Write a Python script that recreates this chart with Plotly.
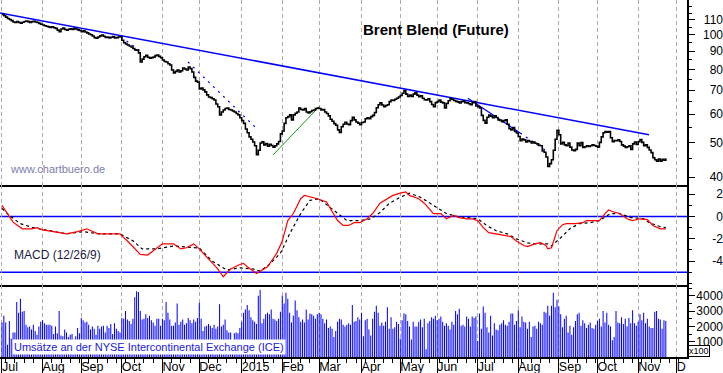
import plotly.graph_objects as go
import math

# ---------------- data ----------------
# trading-day index of first session of each month (Jul 2014 .. Dec 2015)
month_idx = [0, 22, 43, 65, 87, 107, 130, 152, 172, 195, 216, 236, 258, 280, 302, 323, 345, 366]
month_lbl = ["Jul", "Aug", "Sep", "Oct", "Nov", "Dec", "2015", "Feb", "Mar", "Apr", "May",
             "Jun", "Jul", "Aug", "Sep", "Oct", "Nov", "D"]

close_2014_jul = [114, 113, 112, 111, 110.3, 109.5, 108.6, 108.2, 108.9, 108.2, 107.8, 108.4, 108.9,
                  109.3, 108.8, 108.3, 108.8, 109.1, 108.6, 108.2, 107.6, 107]
close_2014_aug = [106.5, 106, 105.6, 105.2, 104.9, 105.3, 104.6, 104.2, 103, 102, 103.8, 104.4, 103.4,
                  103, 103.6, 103.9, 103.4, 104.2, 103.8, 103.2, 102.8]
close_2014_sep = [102, 102.6, 101.8, 101.2, 100.5, 100, 99.2, 98.2, 97.8, 98.6, 99.3, 99.8, 99, 98.3,
                  98.6, 97.9, 98.4, 98.8, 97.9, 98.2, 98.6, 98.9]
close_2014_oct = [96.5, 95, 94.2, 93.6, 93, 92.4, 91.5, 90.7, 90.5, 89, 83.9, 85.5, 86.8, 87.6, 86.5,
                  86, 86.3, 86.6, 87.4, 87.8, 87, 86.2]
close_2014_nov = [85, 84.2, 83.9, 83, 82.3, 79.7, 78.2, 79, 79.7, 78.7, 79.3, 80.7, 80.2, 79.7, 81.2,
                  80.4, 78.7, 76, 74.2, 73.7]
close_2014_dec = [70.5, 71, 70.1, 69.2, 67.9, 67, 66.7, 66.2, 65.7, 64, 62.9, 59.7, 60.8, 61.6, 62.2,
                  62.4, 61.8, 61.6, 61.2, 60.8, 60.2, 59.7, 58.6]
close_2015_jan = [57.5, 56.5, 54.5, 53.2, 51.8, 51, 50.1, 48.9, 46.2, 47.5, 49.8, 50.2, 49.2, 49.6,
                  48.8, 49.4, 49, 48.5, 48.9, 49.5, 50.3, 52.8]
close_2015_feb = [53.8, 56.5, 58.6, 59, 59.7, 57.8, 59.7, 60.3, 60.8, 62.4, 61.8, 61.6, 62.2, 60.8,
                  60.4, 60.9, 61.4, 61.6, 62.2, 62.4]
close_2015_mar = [62.2, 61.6, 61.8, 60.8, 60.2, 59.3, 58, 57.3, 56.4, 55.8, 54.2, 53.3, 55.3, 56.2,
                  56.9, 56.3, 56, 57.5, 58.8, 57.8, 57, 56.6, 56]
close_2015_apr = [56.8, 57, 58.2, 58.6, 58.2, 59, 59.5, 60.6, 62.5, 63.7, 64.5, 63.6, 62.9, 63.4,
                  63.7, 65, 65.7, 65.5, 66, 66.4, 67]
close_2015_may = [67.6, 68.6, 69.8, 68.2, 67.2, 67.8, 67.2, 68.2, 68.8, 67.8, 67.1, 67.5, 66.4, 65.8,
                  65.7, 66.2, 65, 63.8, 62.9, 64.6]
close_2015_jun = [65, 65.7, 64.8, 64.5, 62.4, 64.2, 65.4, 66.4, 65.9, 65.5, 65.1, 64.9, 64.4, 65,
                  65.2, 64.6, 64.5, 64.1, 63.7, 64.6, 65, 63.2]
close_2015_jul = [62.9, 62.4, 59.5, 57.6, 56.6, 58.8, 59.6, 59.2, 58.6, 59.3, 58.7, 57.8, 57.6, 57.1,
                  57.5, 57.8, 56.2, 54.6, 54.2, 55, 53.6, 53.1]
close_2015_aug = [51.9, 50.5, 51.1, 50.8, 50.1, 50.6, 50.3, 49.8, 50.1, 49.7, 49.5, 49.1, 48.9, 47.3,
                  46.9, 45.5, 42.8, 43.6, 44.7, 47.5, 51, 54]
close_2015_sep = [52.5, 49.5, 50, 49.2, 48.9, 49.8, 48.5, 47.6, 47.4, 47.8, 49.8, 48.9, 49.9, 48.4,
                  48.6, 48.9, 48.7, 48.9, 49.2, 49, 48.8]
close_2015_oct = [48.5, 50, 51.8, 53.2, 53.6, 53.4, 53.6, 51.5, 50.2, 50.6, 50.5, 50.8, 50.3, 49.2,
                  48.8, 48.4, 48.6, 48.9, 47.8, 49.5, 50.1, 49.3]
close_2015_nov = [50.2, 50.9, 50, 48.9, 49.2, 48.4, 47.6, 46.8, 45.3, 44.7, 44.3, 44.9, 44.3, 44.8,
                  44.6, 45.1]

close = (close_2014_jul + close_2014_aug + close_2014_sep + close_2014_oct + close_2014_nov +
         close_2014_dec + close_2015_jan + close_2015_feb + close_2015_mar + close_2015_apr +
         close_2015_may + close_2015_jun + close_2015_jul + close_2015_aug + close_2015_sep +
         close_2015_oct + close_2015_nov)
days = list(range(len(close)))

volume = [
    2250, 2700, 2250, 800, 2350, 1200, 1600, 1600, 3600, 2900, 3800, 2950, 3000, 2100, 1950, 2000, 1800, 2100, 1700, 1450, 2000, 2300,
    2400, 2200, 2100, 2100, 2100, 2050, 1500, 2000, 1550, 3000, 1400, 1350, 1800, 1600, 1300, 1450, 1500, 1150, 1350, 1900, 1550,
    2550, 2400, 2250, 2300, 2100, 1800, 2000, 1850, 1450, 2050, 1850, 2000, 2050, 1600, 2050, 1900, 2150, 1500, 2200, 1850, 1700, 1600,
    2550, 2500, 3000, 2450, 2350, 2150, 2500, 3900, 4300, 4250, 3000, 2450, 2500, 2800, 2550, 2700, 2400, 2250, 2050, 2500, 2500, 2050,
    2500, 2400, 3600, 2900, 2450, 2050, 2050, 2250, 3500, 2100, 2300, 2450, 2100, 2200, 2550, 2400, 2200, 2450, 2300, 2550,
    3550, 2500, 1700, 2000, 2050, 2150, 2050, 1900, 2100, 1850, 2000, 3450, 2000, 2100, 2450, 1750, 1600, 1600, 800, 1550, 1600, 1550, 1900,
    2300, 2900, 3100, 3400, 3050, 2600, 2400, 2300, 2150, 4000, 4400, 2200, 2500, 2800, 2900, 2800, 3100, 2500, 2450, 2350, 2500, 2950,
    4000, 3500, 4200, 3800, 2900, 2250, 2700, 3700, 3050, 2600, 2300, 2450, 2250, 3100, 2450, 2850, 2800, 2700, 2500, 2800,
    2900, 2800, 2500, 2200, 2450, 1900, 2000, 1850, 1300, 1700, 2300, 2500, 2450, 2100, 2000, 2100, 2200, 2100, 3400, 2300, 2350, 2600, 2450,
    2900, 1350, 2400, 2500, 1800, 1400, 2500, 2950, 3350, 2900, 2050, 2250, 2050, 2300, 3250, 1850, 2600, 1850, 1950, 2300, 2150,
    1200, 2400, 2850, 2800, 2350, 2000, 1150, 2300, 2000, 2000, 2300, 2450, 1950, 2500, 500, 2200, 2350, 2600, 2500, 2700,
    2400, 2500, 2650, 2300, 2050, 2200, 2050, 1800, 2300, 2100, 3000, 2800, 3150, 2050, 2100, 2000, 2650, 2500, 2000, 2650, 2550, 2650,
    1050, 2850, 1850, 3300, 2900, 1950, 1600, 2700, 1400, 2200, 1800, 1750, 2100, 2200, 2400, 2100, 2050, 2300, 2850, 2850, 2100, 2350,
    3050, 1950, 2650, 2300, 2250, 1850, 2300, 1300, 2000, 2050, 1850, 2300, 2200, 2100, 2950, 2900, 3350, 2700, 3350, 4200, 3250, 3750,
    3300, 2800, 1950, 2500, 2700, 1600, 2050, 1450, 1950, 2350, 2800, 2900, 2050, 2400, 2200, 1900, 2100, 2250, 1900, 1850, 2100,
    2350, 2500, 2000, 3000, 2250, 2900, 2100, 2000, 1100, 1300, 3000, 2250, 2200, 2600, 2150, 2500, 2000, 2550, 2200, 3050, 2200, 2050,
    2300, 2800, 2400, 2900, 2200, 2500, 2000, 1900, 1900, 2950, 3000, 2500, 2450, 1850, 2400, 2350,
]

macd_x = [0, 3, 6, 11, 16, 19, 22, 28, 35, 41, 46, 52, 57, 64, 69, 75, 79, 82, 87, 93, 97, 100, 104,
          107, 113, 117, 120, 124, 129, 131, 133, 138, 144, 149, 152, 155, 158, 162, 164, 169, 171,
          176, 182, 185, 188, 191, 194, 198, 201, 205, 209, 212, 216, 219, 221, 226, 229, 234, 238,
          241, 245, 248, 252, 255, 258, 261, 264, 268, 272, 276, 279, 283, 285, 289, 292, 295, 296,
          298, 301, 304, 306, 311, 315, 317, 321, 324, 327, 329, 331, 335, 339, 342, 346, 350, 353,
          357, 360]
macd_v = [1.0, 0.27, -0.5, -1.1, -1.1, -1.0, -1.2, -1.35, -1.55, -1.35, -1.1, -1.55, -1.55, -1.55,
          -2.35, -3.4, -3.45, -3.1, -2.45, -2.45, -2.9, -2.8, -2.45, -2.9, -4.0, -4.7, -5.4, -4.7,
          -4.3, -4.2, -4.5, -5.1, -4.5, -3.3, -2.2, -0.36, 0.27, 1.6, 1.9, 1.7, 1.6, 1.3, -0.36, -0.8,
          -0.8, -0.55, -0.55, -0.2, 0.27, 1.2, 1.6, 1.9, 2.1, 2.2, 1.9, 1.6, 1.2, 0.27, 0.27, -0.2,
          0.1, -0.1, -0.2, -0.2, -0.36, -1.0, -1.45, -1.55, -1.7, -1.8, -2.2, -2.6, -2.7, -2.45,
          -2.35, -2.6, -2.9, -2.8, -1.27, -0.73, -0.64, -0.64, -0.55, -0.36, -0.36, -0.36, 0.27, 0.6,
          0.45, 0.27, -0.2, -0.36, -0.2, -0.27, -0.8, -1.1, -1.1]
signal_x = [0, 4, 10, 17, 26, 35, 44, 53, 64, 71, 76, 84, 93, 100, 107, 114, 122, 129, 136, 140,
            145, 151, 156, 162, 167, 172, 178, 182, 187, 194, 200, 205, 210, 216, 221, 227, 232, 238,
            241, 247, 252, 258, 263, 268, 274, 279, 285, 290, 296, 298, 303, 308, 313, 319, 324, 330,
            335, 341, 348, 351, 357, 360]
signal_v = [0.73, 0.09, -0.64, -1.0, -1.27, -1.55, -1.36, -1.55, -1.55, -2.18, -2.9, -2.9, -2.64,
            -2.73, -2.82, -4.0, -4.8, -4.6, -4.7, -4.9, -4.3, -3.3, -1.55, 0.27, 1.45, 1.6, 0.82,
            0.27, -0.36, -0.36, -0.2, 0.36, 1.18, 1.73, 2.09, 1.73, 1.18, 0.55, 0.27, 0.0, -0.09,
            -0.2, -0.82, -1.27, -1.55, -2.0, -2.36, -2.45, -2.45, -2.64, -1.9, -1.1, -0.64, -0.55,
            -0.36, 0.27, 0.27, -0.09, -0.2, -0.55, -0.91, -1.0]

# drawn trend lines: (day index, price)
trend_main_x, trend_main_y = [-1.08, 350.9], [115.1, 52.5]
trend_a_x, trend_a_y = [64.5, 76.5], [98.6, 88.9]
trend_b_x, trend_b_y = [100.9, 137.7], [83.9, 54.9]
trend_c_x, trend_c_y = [252.7, 281.0], [66.4, 53.1]
trend_c2_x, trend_c2_y = [281.0, 294.5], [53.1, 47.6]
green_x, green_y = [147.0, 172.5], [46.1, 63.3]
support_x0, support_x1, support_lo, support_hi = 133.4, 364.4, 46.7, 47.6
resistance_level = 62.9
upper_level = 112.8
macd_levels = [0, -5]

price_ticks = [40, 50, 60, 70, 80, 90, 100, 110]
price_minor = [45, 55, 65, 75, 85, 95, 105, 115, 120]
macd_ticks = [-4, -2, 0, 2]
vol_ticks = [1000, 2000, 3000, 4000]

# ---------------- layout constants ----------------
W, H = 723, 373
PLOT_H = 357
XR = [-1.08, 371.5]
XDOM = [0, 687 / W]
FONT = "Liberation Sans, Arial, sans-serif"
GRID = "#b0a8b0"

def py(pix):
    return (PLOT_H - pix) / PLOT_H

dom_price = [py(185), 1]
dom_macd = [py(285), py(185)]
dom_vol = [0, py(285)]
price_range = [math.log10(37.99), math.log10(125.1)]
macd_range = [-6.14, 2.83]
vol_range = [0, 4706]

fig = go.Figure()

# price panel
fig.add_trace(go.Scatter(x=trend_main_x, y=trend_main_y, mode="lines",
                         line=dict(color="#0000ff", width=1.5), xaxis="x", yaxis="y"))
for tx, ty in [(trend_a_x, trend_a_y), (trend_b_x, trend_b_y), (trend_c2_x, trend_c2_y)]:
    fig.add_trace(go.Scatter(x=tx, y=ty, mode="lines",
                             line=dict(color="#0000ff", width=1.3, dash="2px,5px"), xaxis="x", yaxis="y"))
fig.add_trace(go.Scatter(x=trend_c_x, y=trend_c_y, mode="lines",
                         line=dict(color="#0000ff", width=1.2), xaxis="x", yaxis="y"))
fig.add_trace(go.Scatter(x=green_x, y=green_y, mode="lines",
                         line=dict(color="#10a010", width=1), xaxis="x", yaxis="y"))
fig.add_trace(go.Scatter(x=days, y=close, mode="lines", line=dict(color="black", width=1.6, shape="hv"),
                         xaxis="x", yaxis="y"))

# MACD panel
fig.add_trace(go.Scatter(x=signal_x, y=signal_v, mode="lines",
                         line=dict(color="black", width=1.2, dash="3px,3px"), xaxis="x2", yaxis="y2"))
fig.add_trace(go.Scatter(x=macd_x, y=macd_v, mode="lines",
                         line=dict(color="#ff0000", width=1.2), xaxis="x2", yaxis="y2"))

# volume panel (alpha < 1 makes plotly snap bar edges to whole pixels -> crisp 1px bars)
fig.add_trace(go.Bar(x=days, y=volume, width=0.55,
                     marker=dict(color="rgba(0,0,255,0.999)", line=dict(width=0)),
                     xaxis="x3", yaxis="y3"))

# dummy traces for label-only overlay axes
for xa, ya in [("x", "y4"), ("x2", "y5"), ("x3", "y6"), ("x4", "y3")]:
    fig.add_trace(go.Scatter(x=[None], y=[None], xaxis=xa, yaxis=ya, hoverinfo="skip"))

shapes = []
shapes.append(dict(type="line", xref="x domain", yref="y", x0=0, x1=1,
                   y0=math.log10(upper_level), y1=math.log10(upper_level),
                   line=dict(color="#c0a8c0", width=1, dash="4px,3px"), layer="below"))
shapes.append(dict(type="line", xref="x domain", yref="y", x0=0, x1=1,
                   y0=math.log10(resistance_level), y1=math.log10(resistance_level),
                   line=dict(color="#98b898", width=1), layer="below"))
shapes.append(dict(type="rect", xref="x", yref="y", x0=support_x0, x1=support_x1,
                   y0=math.log10(support_lo), y1=math.log10(support_hi),
                   line=dict(color="#808080", width=1), fillcolor="rgba(0,0,0,0)", layer="below"))
for lv in macd_levels:
    shapes.append(dict(type="line", xref="x2 domain", yref="y2", x0=0, x1=1, y0=lv, y1=lv,
                       line=dict(color="#0000ff", width=1.5), layer="below"))

axis_common = dict(range=XR, domain=XDOM, tickmode="array", tickvals=month_idx, showticklabels=False,
                   showgrid=True, gridcolor=GRID, griddash="4px,3px", gridwidth=1, zeroline=False,
                   showline=True, linecolor="black", linewidth=1.5)

yax_common = dict(side="right", showline=True, linecolor="black", linewidth=1.5, ticks="outside",
                  ticklen=6, tickcolor="black", tickwidth=1, showticklabels=False, showgrid=False,
                  zeroline=False, tickmode="array")

lab_common = dict(side="left", anchor="free", position=1.0, showline=False, ticks="", showgrid=False,
                  zeroline=False, tickmode="array", tickfont=dict(family=FONT, size=12, color="black"))

fig.update_layout(
    width=W, height=H, margin=dict(l=0, r=0, t=0, b=H - PLOT_H, autoexpand=False),
    paper_bgcolor="white", plot_bgcolor="white", showlegend=False,
    font=dict(family=FONT, size=12, color="black"),
    xaxis=dict(anchor="y", ticks="", **axis_common),
    xaxis2=dict(anchor="y2", ticks="", **axis_common),
    xaxis3=dict(anchor="y3", ticks="outside", ticklen=16, tickcolor="black", tickwidth=1,
                minor=dict(tick0=2, dtick=5, ticks="outside", ticklen=4, tickcolor="black",
                           showgrid=False),
                **axis_common),
    xaxis4=dict(overlaying="x3", anchor="y3", side="bottom", range=XR, tickmode="array",
                tickvals=month_idx, ticktext=month_lbl, ticks="", showgrid=False, zeroline=False,
                showline=False, ticklabelposition="outside right",
                tickfont=dict(family=FONT, size=12.5, color="black")),
    yaxis=dict(anchor="x", domain=dom_price, type="log", range=price_range, tickvals=price_ticks,
               minor=dict(tickmode="array", tickvals=price_minor, ticks="outside", ticklen=3,
                          tickcolor="black", showgrid=False),
               **yax_common),
    yaxis2=dict(anchor="x2", domain=dom_macd, range=macd_range, tickvals=macd_ticks,
                minor=dict(tickmode="array", tickvals=[-6, -5, -3, -1, 1], ticks="outside", ticklen=3,
                           tickcolor="black", showgrid=False),
                **yax_common),
    yaxis3=dict(anchor="x3", domain=dom_vol, range=vol_range, tickvals=vol_ticks,
                minor=dict(tickmode="array", tickvals=[500, 1500, 2500, 3500, 4500], ticks="outside",
                           ticklen=3, tickcolor="black", showgrid=False),
                **yax_common),
    yaxis4=dict(overlaying="y", type="log", range=price_range, tickvals=price_ticks,
                ticktext=[str(v) for v in price_ticks], **lab_common),
    yaxis5=dict(overlaying="y2", range=macd_range, tickvals=macd_ticks,
                ticktext=[str(v) for v in macd_ticks], **lab_common),
    yaxis6=dict(overlaying="y3", range=vol_range, tickvals=vol_ticks,
                ticktext=[str(v) for v in vol_ticks], **lab_common),
    shapes=shapes,
)

ann = [
    dict(text="<b>Brent Blend (Future)</b>", x=436 / W, y=py(29), xanchor="center", yanchor="middle",
         font=dict(family=FONT, size=15, color="black")),
    dict(text="www.chartbuero.de", x=8 / W, y=py(169), xanchor="left", yanchor="middle",
         font=dict(family=FONT, size=11, color="#7c7cac")),
    dict(text="MACD (12/26/9)", x=12 / W, y=py(255), xanchor="left", yanchor="middle",
         font=dict(family=FONT, size=12, color="#1c1c40")),
    dict(text="Umsätze an der NYSE Intercontinental Exchange (ICE)", x=12 / W, y=py(346.5),
         xanchor="left", yanchor="middle", bgcolor="white", borderpad=1,
         font=dict(family=FONT, size=11, color="#2020e0")),
    dict(text="x100", x=699 / W, y=py(351), xanchor="center", yanchor="middle", bgcolor="white",
         bordercolor="black", borderwidth=1, borderpad=0,
         font=dict(family=FONT, size=9, color="black")),
]
for a in ann:
    a.update(xref="paper", yref="paper", showarrow=False)
fig.update_layout(annotations=ann)

fig.write_html("out.html", config={"displayModeBar": False},
               post_script="document.body.style.margin='0px';document.body.style.overflow='hidden';")
